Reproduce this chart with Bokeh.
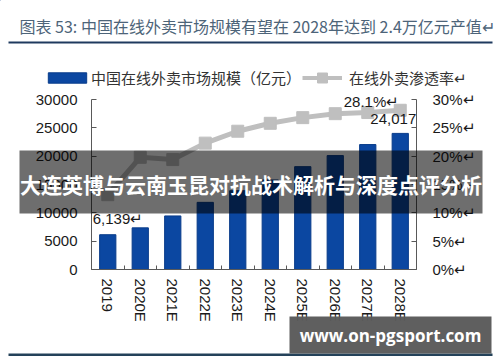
import math
from bokeh.plotting import figure
from bokeh.models import (Range1d, LinearAxis, FixedTicker, Label, Legend, LegendItem,
                          ColumnDataSource)
from bokeh.core.properties import value
from bokeh.embed import file_html
from bokeh.resources import INLINE

# ---------------- data ----------------
categories = ["2019", "2020E", "2021E", "2022E", "2023E", "2024E", "2025E", "2026E", "2027E", "2028E"]
market_size = [6139, 7350, 9450, 11850, 13900, 15800, 18150, 20100, 22050, 24017]   # 亿元
penetration = [13.2, 19.8, 19.4, 22.3, 24.4, 25.8, 26.8, 27.5, 27.7, 28.1]          # %
left_ticks = [0, 5000, 10000, 15000, 20000, 25000, 30000]
right_ticks = [0, 5, 10, 15, 20, 25, 30]

title_text = "图表 53:  中国在线外卖市场规模有望在 2028年达到 2.4万亿元产值↵"
series1_name = "中国在线外卖市场规模（亿元）"
series2_name = "在线外卖渗透率↵"
overlay_text = "大连英博与云南玉昆对抗战术解析与深度点评分析"
watermark_text = "www.on-pgsport.com"

FONT_NUM = "Liberation Sans"
FONT_CJK = "Noto Sans CJK SC"
AX = "#595959"
TXT = "#1a1a1a"
BAR_FILL = "#0b47a1"
BAR_LINE = "#093c8a"
LINE_COL = "#bfbfbf"

W, H = 500, 362
F_LEFT, F_RIGHT, F_BOTTOM, AX_TOP, F_TOP = 91, 416, 269, 99, 88
extra = (F_BOTTOM - F_TOP) / (F_BOTTOM - AX_TOP)   # headroom above the 30000 / 30% tick

src = ColumnDataSource(dict(x=list(range(len(categories))), size=market_size, pct=penetration))

p = figure(width=W, height=H, output_backend="svg", toolbar_location=None,
           x_range=Range1d(-0.5, len(categories) - 0.5),
           y_range=Range1d(0, left_ticks[-1] * extra),
           min_border_left=F_LEFT, min_border_right=W - F_RIGHT,
           min_border_top=F_TOP, min_border_bottom=H - F_BOTTOM)
p.extra_y_ranges = {"pct": Range1d(0, right_ticks[-1] * extra)}
p.xgrid.visible = False
p.ygrid.visible = False
p.outline_line_color = None
p.background_fill_color = "white"
p.border_fill_color = "white"
p.styles = {"position": "absolute", "top": "0px", "left": "0px"}

# bottom axis
xa = p.xaxis[0]
xa.ticker = FixedTicker(ticks=list(range(len(categories))),
                        minor_ticks=[i - 0.5 for i in range(len(categories) + 1)])
xa.major_label_overrides = {i: c for i, c in enumerate(categories)}
xa.major_label_orientation = -math.pi / 2
xa.major_tick_line_color = None
xa.major_tick_in = 0
xa.major_tick_out = 0
xa.minor_tick_in = 4
xa.minor_tick_out = 0
xa.minor_tick_line_color = AX
xa.axis_line_color = AX
xa.major_label_standoff = 9
xa.major_label_text_font = FONT_NUM
xa.major_label_text_font_size = "15px"
xa.major_label_text_color = TXT

# left axis
ya = p.yaxis[0]
ya.ticker = FixedTicker(ticks=left_ticks)
ya.bounds = (left_ticks[0], left_ticks[-1])
ya.major_label_overrides = {t: str(t) for t in left_ticks}
ya.minor_tick_line_color = None
ya.major_tick_in = 5
ya.major_tick_out = 0
ya.major_tick_line_color = AX
ya.axis_line_color = AX
ya.major_label_standoff = 14
ya.major_label_text_font = FONT_NUM
ya.major_label_text_font_size = "15px"
ya.major_label_text_color = TXT

# right axis
ra = LinearAxis(y_range_name="pct", ticker=FixedTicker(ticks=right_ticks),
                bounds=(right_ticks[0], right_ticks[-1]))
ra.major_label_overrides = {t: f"{t}%↵" for t in right_ticks}
ra.minor_tick_line_color = None
ra.major_tick_in = 5
ra.major_tick_out = 0
ra.major_tick_line_color = AX
ra.axis_line_color = AX
ra.major_label_standoff = 16
ra.major_label_text_font = FONT_NUM
ra.major_label_text_font_size = "15px"
ra.major_label_text_color = TXT
p.add_layout(ra, "right")

# data glyphs
bars = p.vbar(x="x", top="size", width=0.5, source=src,
              fill_color=BAR_FILL, line_color=BAR_LINE, line_width=1)
line = p.line(x="x", y="pct", source=src, y_range_name="pct",
              line_color=LINE_COL, line_width=5)
marks = p.scatter(x="x", y="pct", source=src, y_range_name="pct", marker="square",
                  size=12, fill_color=LINE_COL, line_color=LINE_COL)

# data labels
p.add_layout(Label(x=0, y=market_size[0], text="6,139↵", x_offset=-15, y_offset=16,
                   text_align="left", text_baseline="middle", text_font=FONT_NUM,
                   text_font_size="15px", text_color=TXT))
p.add_layout(Label(x=len(categories) - 1, y=market_size[-1], text="24,017", x_offset=16, y_offset=14,
                   text_align="right", text_baseline="middle", text_font=FONT_NUM,
                   text_font_size="15px", text_color=TXT))
p.add_layout(Label(x=len(categories) - 1, y=penetration[-1], y_range_name="pct", text="28.1%↵",
                   x_offset=-1, y_offset=9, text_align="right", text_baseline="middle",
                   text_font=FONT_NUM, text_font_size="15px", text_color=TXT))

# ---------------- overlay: title, legend, rules, banner, watermark ----------------
o = figure(width=W, height=H, output_backend="svg", toolbar_location=None,
           x_range=Range1d(0, W), y_range=Range1d(H, 0),
           x_axis_type=None, y_axis_type=None, min_border=0)
o.xgrid.visible = False
o.ygrid.visible = False
o.outline_line_color = None
o.background_fill_alpha = 0
o.border_fill_alpha = 0
o.styles = {"position": "absolute", "top": "0px", "left": "0px"}

# title + rules
o.text(x=[19], y=[25], text=[title_text], text_font=value(FONT_CJK),
       text_font_size=value("16px"), text_align="left", text_baseline="middle",
       text_color="#4d6479")
o.quad(left=[8, 8], right=[492, 492], top=[41, 353], bottom=[43, 355.5],
       fill_color=["#1f3a5f", "#24425a"], line_color=None)

# legend swatches: off-canvas proxies styled like the data glyphs
lg_bar = o.vbar(x=[-100], top=[-100], width=0.5, fill_color=BAR_FILL, line_color=BAR_LINE)
lg_line = o.line(x=[-100, -90], y=[-100, -100], line_color=LINE_COL, line_width=4)
lg_mark = o.scatter(x=[-100], y=[-100], marker="square", fill_color=LINE_COL, line_color=LINE_COL)
leg1 = Legend(items=[LegendItem(label=series1_name, renderers=[lg_bar])], location=(43, H - 88),
              orientation="horizontal", glyph_width=48, glyph_height=13, label_height=13,
              label_standoff=0, padding=0, margin=0, border_line_color=None,
              background_fill_alpha=0, label_text_font=FONT_CJK, label_text_font_size="15px",
              label_text_color="#333333")
leg2 = Legend(items=[LegendItem(label=series2_name, renderers=[lg_line, lg_mark])],
              location=(302, H - 89.5),
              orientation="horizontal", glyph_width=40, glyph_height=25, label_height=25,
              label_standoff=7, padding=0, margin=0, border_line_color=None,
              background_fill_alpha=0, label_text_font=FONT_CJK, label_text_font_size="15px",
              label_text_color="#333333")
o.add_layout(leg1)
o.add_layout(leg2)

# banner
o.quad(left=[19], right=[482], top=[150], bottom=[213], fill_color="black", fill_alpha=0.57,
       line_color=None)
o.text(x=[250.5], y=[183], text=[overlay_text], text_font=value(FONT_CJK),
       text_font_size=value("21px"), text_font_style="bold", text_align="center",
       text_baseline="middle", text_color="white")

# watermark
o.quad(left=[289], right=[491], top=[316], bottom=[353], fill_color="#5a5a5a", fill_alpha=0.97,
       line_color=None)
o.text(x=[390], y=[334.5], text=[watermark_text], text_font=value("Open Sans"),
       text_font_size=value("17px"), text_font_style="bold", text_align="center",
       text_baseline="middle", text_color="white")

open("out.html", "w").write(file_html([p, o], INLINE))
